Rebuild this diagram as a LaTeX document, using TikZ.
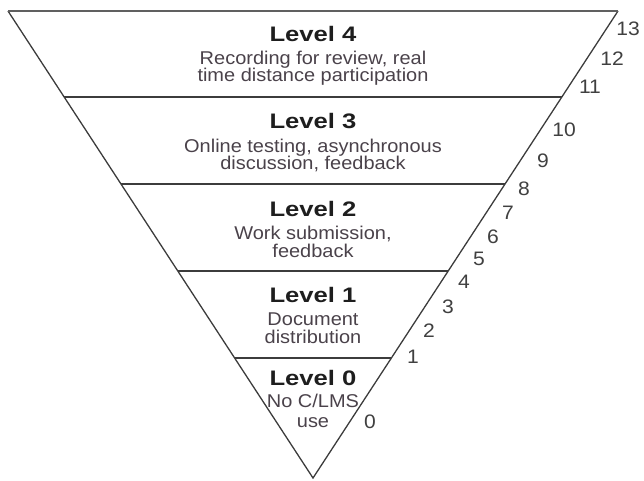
\documentclass[tikz,border=0pt]{standalone}
\usepackage{fontspec}
\setmainfont{Liberation Sans}
\newfontfamily\lvlfont[FakeStretch=1.08]{Liberation Sans}
\newfontfamily\headfont[FakeStretch=1.22]{Liberation Sans}
\usetikzlibrary{calc}
\definecolor{edge}{HTML}{3C3C3C}
\definecolor{rim}{HTML}{606060}
\definecolor{headink}{HTML}{1E1E1E}
\definecolor{bodyink}{HTML}{4A424A}
\definecolor{tickink}{HTML}{404040}
\begin{document}
\begin{tikzpicture}[x=1pt,y=-1pt,
  edgeline/.style={draw=edge,line width=1.3pt,line join=miter},
  rimline/.style={draw=rim,line width=2.4pt},
  heading/.style={inner sep=0pt,anchor=base,text=headink,
    font=\headfont\bfseries\fontsize{21}{23}\selectfont},
  bodyline/.style={inner sep=0pt,anchor=base,text=bodyink,
    font=\lvlfont\fontsize{18.5}{20}\selectfont},
  tickno/.style={inner sep=0pt,text=tickink,
    font=\lvlfont\fontsize{19.5}{21}\selectfont}]
\useasboundingbox (0,0) rectangle (644,480);

% corners of the inverted triangle
\coordinate (tl) at (8,11);
\coordinate (tr) at (618,11);
\coordinate (apex) at (313,478);

% band boundaries on both slanted edges
\foreach \i/\f in {4/0.18415,3/0.37045,2/0.55675,1/0.74304}{
  \coordinate (l\i) at ($(tl)!\f!(apex)$);
  \coordinate (r\i) at ($(tr)!\f!(apex)$);
}

% outline and dividers
\draw[edgeline] (tl) -- (apex) -- (tr);
\draw[rimline] (tl) -- (tr);
\foreach \i in {1,...,4}
  \draw[edgeline] (l\i) -- (r\i);

% level texts
\node[heading]  (h4) at (313,41)  {Level 4};
\node[bodyline] (t4a) at (313,64) {Recording for review, real};
\node[bodyline] (t4b) at (313,81) {time distance participation};

\node[heading]  (h3) at (313,128) {Level 3};
\node[bodyline] (t3a) at (313,152) {Online testing, asynchronous};
\node[bodyline] (t3b) at (313,169) {discussion, feedback};

\node[heading]  (h2) at (313,216) {Level 2};
\node[bodyline] (t2a) at (313,239) {Work submission,};
\node[bodyline] (t2b) at (313,257) {feedback};

\node[heading]  (h1) at (313,302) {Level 1};
\node[bodyline] (t1a) at (313,325) {Document};
\node[bodyline] (t1b) at (313,343) {distribution};

\node[heading]  (h0) at (313,385) {Level 0};
\node[bodyline] (t0a) at (313,407) {No C/LMS};
\node[bodyline] (t0b) at (313,427) {use};

% scale numbers along the right edge
\foreach \n/\x/\y in {13/628/29,12/612/59,11/590/87,10/564/130,9/543/161,
  8/524/189,7/508/213,6/493/237,5/479/259,4/464/282,3/448/307,
  2/429/331,1/413/357,0/370/422}
  \node[tickno] (n\n) at (\x,\y) {\n};
\end{tikzpicture}
\end{document}
